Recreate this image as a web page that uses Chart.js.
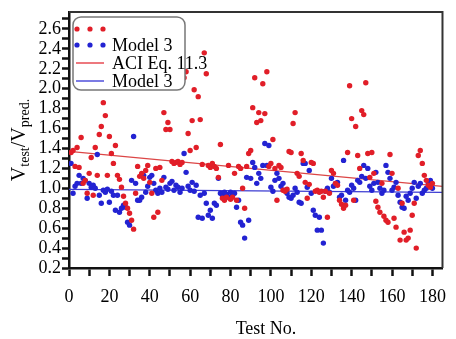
<!DOCTYPE html>
<html>
<head>
<meta charset="utf-8">
<script src="https://cdn.jsdelivr.net/npm/chart.js@4.4.1/dist/chart.umd.min.js"></script>
<style>
  html, body { margin: 0; padding: 0; background: #fff; }
  canvas { display: block; }
</style>
</head>
<body>
<canvas id="chart" width="456" height="339"></canvas>
<script>
// V_test / V_pred. per test, ACI Eq. 11.3 (red) and Model 3 (blue), tests 1..180
const aciRatio = [
  1.36, 1.38, 1.22, 1.41, 1.21, 1.51, 1.05, 1.08, 0.95, 1.15,
  1.31, 0.93, 1.41, 1.13, 1.54, 1.62, 1.86, 1.73, 1.13, 1.52,
  1.35, 1.25, 1.43, 1.13, 1.09, 1.01, 0.92, 0.85, 0.80, 0.75,
  0.68, 0.59, 0.95, 1.22, 1.12, 1.15, 1.10, 1.18, 1.23, 1.06,
  0.95, 0.71, 1.20, 0.76, 1.21, 1.08, 1.76, 1.59, 1.66, 1.59,
  1.27, 1.25, 1.26, 1.27, 1.24, 1.26, 2.11, 2.17, 1.55, 1.38,
  1.68, 1.99, 1.41, 1.92, 1.69, 1.24, 2.36, 2.15, 1.23, 1.21,
  1.25, 1.22, 1.20, 1.11, 1.44, 0.90, 0.88, 0.91, 1.23, 0.89,
  0.91, 1.15, 0.88, 1.22, 1.20, 1.00, 0.80, 1.22, 1.35, 1.38,
  1.81, 2.11, 1.66, 1.76, 1.68, 2.05, 1.75, 2.17, 1.22, 1.25,
  1.49, 1.20, 0.88, 1.23, 1.21, 0.98, 0.97, 0.99, 1.37, 1.36,
  1.65, 1.76, 1.15, 1.12, 1.35, 1.28, 1.06, 0.90, 1.04, 1.26,
  1.25, 0.97, 0.98, 0.96, 0.97, 0.91, 0.97, 0.71, 0.95, 1.18,
  1.15, 1.05, 1.03, 0.88, 0.84, 0.80, 0.83, 1.36, 2.03, 1.70,
  0.88, 1.62, 1.33, 1.20, 1.78, 1.74, 2.06, 1.35, 1.11, 1.36,
  1.15, 0.87, 0.81, 0.76, 1.05, 0.72, 0.68, 0.66, 1.34, 1.15,
  0.70, 0.61, 1.00, 0.48, 0.85, 0.56, 0.48, 0.50, 0.58, 0.73,
  0.85, 0.40, 1.33, 1.38, 1.25, 1.13, 1.08, 1.03, 1.01, 1.05
];
const model3Ratio = [
  1.25, 0.95, 1.02, 1.05, 1.13, 1.05, 1.10, 1.08, 0.90, 1.05,
  1.01, 1.03, 1.00, 1.34, 0.93, 0.85, 0.98, 0.96, 0.99, 0.86,
  0.97, 0.93, 0.78, 0.93, 0.76, 0.80, 0.83, 0.81, 0.66, 0.63,
  1.08, 1.52, 1.05, 0.88, 0.88, 0.91, 1.13, 0.96, 1.02, 1.11,
  1.13, 1.05, 0.98, 0.95, 1.00, 0.96, 1.11, 1.01, 0.99, 1.05,
  1.07, 0.98, 1.03, 1.01, 0.96, 1.00, 1.35, 1.16, 1.02, 0.98,
  1.06, 0.97, 1.03, 0.71, 0.93, 0.70, 0.95, 0.85, 0.73, 0.78,
  0.70, 0.85, 0.83, 1.10, 0.95, 0.93, 0.96, 0.94, 0.91, 0.96,
  0.93, 0.95, 0.81, 0.88, 0.66, 0.63, 0.50, 1.11, 0.68, 1.10,
  1.26, 1.21, 1.05, 1.15, 1.10, 1.23, 1.45, 1.23, 1.43, 1.01,
  0.97, 1.08, 1.15, 1.10, 1.02, 1.05, 0.98, 0.95, 0.91, 0.90,
  0.93, 1.00, 0.96, 0.86, 0.85, 1.25, 1.25, 1.01, 1.18, 0.95,
  0.78, 0.73, 0.58, 0.71, 0.58, 0.45, 0.97, 1.00, 0.96, 1.10,
  1.02, 1.05, 1.06, 0.91, 0.93, 1.28, 0.88, 0.98, 0.96, 1.03,
  1.00, 0.88, 1.08, 1.06, 1.12, 1.23, 1.10, 1.20, 1.02, 0.98,
  1.05, 1.16, 1.06, 1.00, 0.95, 0.98, 1.23, 1.16, 1.10, 0.98,
  1.01, 1.06, 0.93, 0.86, 0.81, 0.80, 0.92, 0.88, 0.95, 1.00,
  1.06, 0.90, 1.02, 1.05, 0.95, 0.98, 1.00, 1.05, 1.08, 1.00
];
// linear fits, drawn across the whole x range
const fitX = [0, 185];
const aciFit = [1.37, 1.02];
const model3Fit = [0.99, 0.96];

const xTicks = [0, 10, 20, 30, 40, 50, 60, 70, 80, 90, 100, 110, 120, 130, 140, 150, 160, 170, 180];
const yTicks = [0.2, 0.3, 0.4, 0.5, 0.6, 0.7, 0.8, 0.9, 1.0, 1.1, 1.2, 1.3, 1.4, 1.5, 1.6, 1.7, 1.8, 1.9, 2.0, 2.1, 2.2, 2.3, 2.4, 2.5, 2.6, 2.7];
const legendLabels = ['', 'Model 3', 'ACI Eq. 11.3', 'Model 3'];

const RED = 'rgb(225,30,40)';
const BLUE = 'rgb(35,35,210)';
const SERIF = '"Liberation Serif", "Times New Roman", serif';

const toPoints = arr => arr.map((v, i) => ({ x: i + 1, y: v }));
const fitPoints = arr => arr.map((v, i) => ({ x: fitX[i], y: v }));

// frame, axis titles (with subscripts) and the boxed legend
const decor = {
  id: 'decor',
  afterDraw(chart) {
    const ctx = chart.ctx;
    const a = chart.chartArea;
    ctx.save();
    ctx.strokeStyle = '#333';
    ctx.lineWidth = 2;
    ctx.beginPath();
    ctx.moveTo(a.left, a.top);
    ctx.lineTo(a.right, a.top);
    ctx.lineTo(a.right, a.bottom);
    ctx.stroke();

    // x title
    ctx.fillStyle = '#000';
    ctx.font = '18px ' + SERIF;
    ctx.textAlign = 'center';
    ctx.textBaseline = 'alphabetic';
    ctx.fillText('Test No.', 266, 334);

    // y title: V_test / V_pred.
    const parts = [['V', 0], ['test', 1], ['/V', 0], ['pred.', 1]];
    const big = '20px ' + SERIF, small = '14px ' + SERIF;
    let w = 0;
    parts.forEach(p => { ctx.font = p[1] ? small : big; w += ctx.measureText(p[0]).width; });
    ctx.translate(19, 140);
    ctx.rotate(-Math.PI / 2);
    ctx.textAlign = 'left';
    let x = -w / 2;
    parts.forEach(p => {
      ctx.font = p[1] ? small : big;
      ctx.fillText(p[0], x, p[1] ? 10 : 6);
      x += ctx.measureText(p[0]).width;
    });
    ctx.restore();

    // legend
    ctx.save();
    ctx.fillStyle = '#fff';
    ctx.strokeStyle = '#777';
    ctx.lineWidth = 1.5;
    ctx.beginPath();
    ctx.roundRect(73, 17, 112, 73, 8);
    ctx.fill();
    ctx.stroke();
    const rows = [29, 45, 63, 81];
    const cols = [RED, BLUE, RED, BLUE];
    rows.forEach((y, i) => {
      if (i < 2) {
        ctx.fillStyle = cols[i];
        [77, 90, 103].forEach(cx => {
          ctx.beginPath();
          ctx.arc(cx, y, 2.6, 0, Math.PI * 2);
          ctx.fill();
        });
      } else {
        ctx.strokeStyle = cols[i];
        ctx.lineWidth = 1.2;
        ctx.beginPath();
        ctx.moveTo(76, y);
        ctx.lineTo(104, y);
        ctx.stroke();
      }
      ctx.fillStyle = '#000';
      ctx.font = '18px ' + SERIF;
      ctx.textAlign = 'left';
      ctx.textBaseline = 'alphabetic';
      ctx.fillText(legendLabels[i], 112, y + 6);
    });
    ctx.restore();
  }
};

new Chart(document.getElementById('chart'), {
  type: 'scatter',
  data: {
    datasets: [
      { label: 'ACI Eq. 11.3', data: toPoints(aciRatio), backgroundColor: RED, borderWidth: 0, pointRadius: 2.7 },
      { label: 'Model 3', data: toPoints(model3Ratio), backgroundColor: BLUE, borderWidth: 0, pointRadius: 2.7 },
      { label: 'ACI Eq. 11.3 fit', data: fitPoints(aciFit), showLine: true, borderColor: 'rgb(220,70,70)', borderWidth: 1.2, pointRadius: 0 },
      { label: 'Model 3 fit', data: fitPoints(model3Fit), showLine: true, borderColor: 'rgb(60,60,210)', borderWidth: 1.2, pointRadius: 0 }
    ]
  },
  options: {
    responsive: false,
    animation: false,
    devicePixelRatio: 1,
    layout: { padding: { left: 0, right: 4, top: 12, bottom: 0 } },
    plugins: { legend: { display: false }, tooltip: { enabled: false } },
    scales: {
      x: {
        type: 'linear', min: 0, max: 185,
        afterBuildTicks: s => { s.ticks = xTicks.map(v => ({ value: v })); },
        afterFit: s => { s.height = 71; },
        ticks: {
          autoSkip: false, maxRotation: 0, padding: 10, color: '#000',
          font: { family: SERIF, size: 18 },
          callback: v => (v % 20 === 0 ? String(v) : '')
        },
        grid: { drawOnChartArea: false, drawTicks: true, tickLength: 8, tickWidth: 2.5, tickColor: '#111' },
        border: { color: '#111', width: 2.5 }
      },
      y: {
        type: 'linear', min: 0.2, max: 2.77,
        afterBuildTicks: s => { s.ticks = yTicks.map(v => ({ value: v })); },
        afterFit: s => { s.width = 69; },
        ticks: {
          autoSkip: false, padding: 1, color: '#000',
          font: { family: SERIF, size: 18 },
          callback: v => (Math.round(v * 10) % 2 === 0 ? v.toFixed(1) : '')
        },
        grid: { drawOnChartArea: false, drawTicks: true, tickLength: 7, tickWidth: 2.5, tickColor: '#111' },
        border: { color: '#111', width: 2.5 }
      }
    }
  },
  plugins: [decor]
});
</script>
</body>
</html>
